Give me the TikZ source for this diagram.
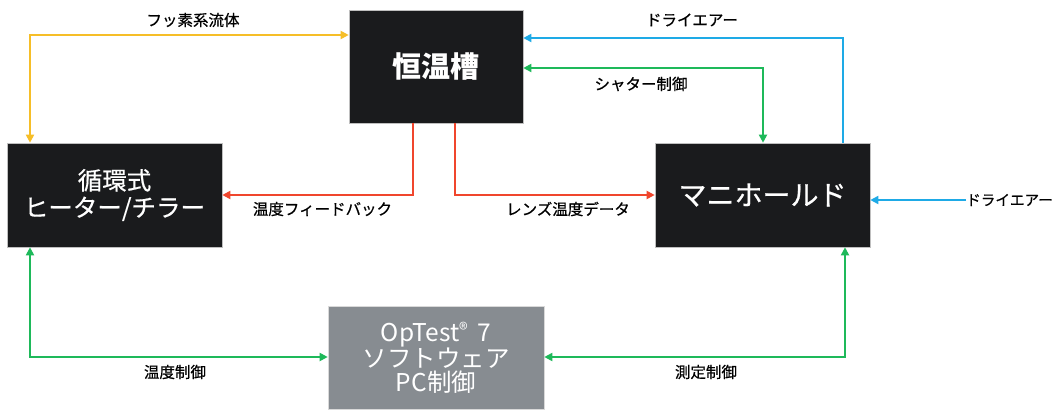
\documentclass[tikz,border=0pt]{standalone}
\usepackage{fontspec}
\setmainfont{Noto Sans CJK JP}
\newfontfamily\semib[FakeBold=0.6]{Noto Sans CJK JP}
\usetikzlibrary{arrows.meta}
\definecolor{boxblack}{RGB}{26,27,29}
\definecolor{boxgray}{RGB}{135,140,145}
\definecolor{cyel}{RGB}{246,190,40}
\definecolor{cblu}{RGB}{30,170,230}
\definecolor{cgrn}{RGB}{30,185,90}
\definecolor{cred}{RGB}{240,70,45}
\tikzset{
  blk/.style={draw=black!25, line width=0.6pt, fill=boxblack, text=white, inner sep=0pt, align=center},
  gry/.style={draw=black!15, line width=0.6pt, fill=boxgray, text=white, inner sep=0pt, align=center},
  conn/.style={line width=1.8pt, arrows={-Triangle[length=8pt,width=8pt]}},
  conn2/.style={line width=1.8pt, arrows={Triangle[length=8pt,width=8pt]-Triangle[length=8pt,width=8pt]}},
  lbl/.style={inner sep=0pt, text=black, font=\semib\fontsize{15.5}{18}\selectfont}
}
\begin{document}
\begin{tikzpicture}[x=1pt,y=-1pt]
\useasboundingbox[fill=white] (0,0) rectangle (1056,411);
% boxes
\node[blk, minimum width=174pt, minimum height=113pt, font=\bfseries\fontsize{29}{32}\selectfont] (tank) at (436,66.5) {恒温槽};
\node[blk, minimum width=215pt, minimum height=104pt, font=\semib\fontsize{24.5}{27}\selectfont] (chiller) at (114.5,195) {循環式\\ヒーター/チラー};
\node[blk, minimum width=215pt, minimum height=104pt, font=\semib\fontsize{28}{30}\selectfont] (mani) at (762.5,195) {マニホールド};
\node[gry, minimum width=216pt, minimum height=103pt, font=\fontsize{24.5}{24}\selectfont] (pc) at (436,357.5) {OpTest{\fontsize{18}{18}\selectfont\raisebox{5pt}{®}}\, 7\\ソフトウェア\\PC制御};
% helper corners
\coordinate (c1) at (30,35);
\coordinate (c2) at (843,38);
\coordinate (c3) at (763,68);
\coordinate (c4) at (413,195);
\coordinate (c5) at (455,195);
\coordinate (c6) at (966,200);
\coordinate (c7) at (30,357);
\coordinate (c8) at (845,357);
% connectors
\draw[conn2, cyel] (c1 -| tank.west) -- (c1) -- (c1 |- chiller.north);
\draw[conn, cblu] (c2 |- mani.north) -- (c2) -- (c2 -| tank.east);
\draw[conn2, cgrn] (c3 -| tank.east) -- (c3) -- (c3 |- mani.north);
\draw[conn, cred] (c4 |- tank.south) -- (c4) -- (c4 -| chiller.east);
\draw[conn, cred] (c5 |- tank.south) -- (c5) -- (c5 -| mani.west);
\draw[conn, cblu] (c6) -- (c6 -| mani.east);
\draw[conn2, cgrn] (c7 |- chiller.south) -- (c7) -- (c7 -| pc.west);
\draw[conn2, cgrn] (c8 |- mani.south) -- (c8) -- (c8 -| pc.east);
% labels
\node[lbl] (l1) at (193,20) {フッ素系流体};
\node[lbl] (l2) at (692,20) {ドライエアー};
\node[lbl] (l3) at (641,84) {シャター制御};
\node[lbl] (l4) at (322.5,209) {温度フィードバック};
\node[lbl] (l5) at (568,209) {レンズ温度データ};
\node[lbl, anchor=west, font=\semib\fontsize{14.6}{18}\selectfont] (l6) at (c6) {ドライエアー};
\node[lbl] (l7) at (175,372) {温度制御};
\node[lbl] (l8) at (706,372) {測定制御};
\end{tikzpicture}
\end{document}
